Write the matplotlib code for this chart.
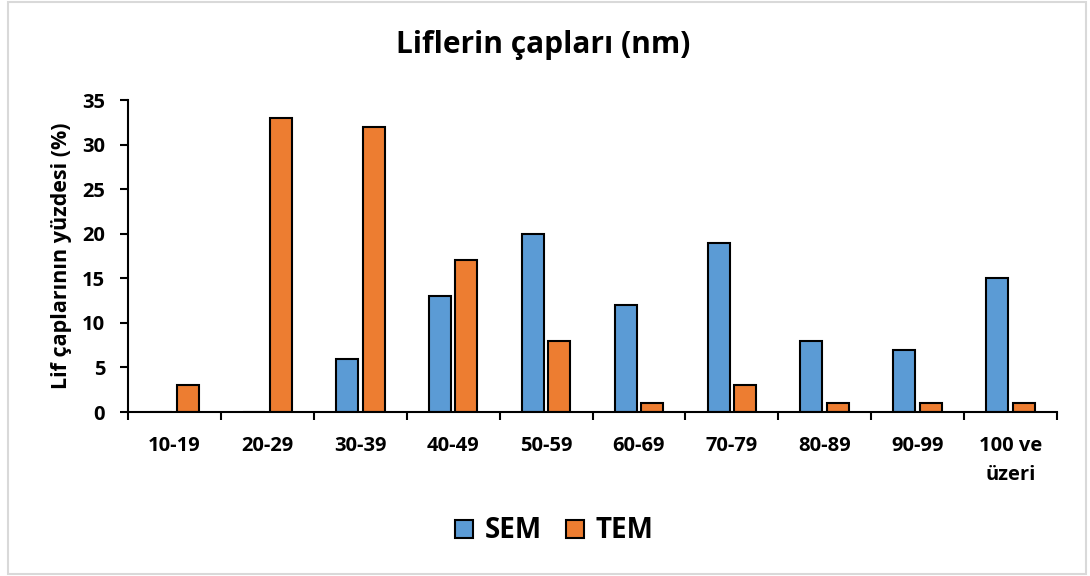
import matplotlib
matplotlib.use("Agg")
import matplotlib.pyplot as plt
import matplotlib.patches as mpatches
from matplotlib.lines import Line2D
import numpy as np

plt.rcParams["font.family"] = ["Open Sans", "DejaVu Sans"]
plt.rcParams["font.weight"] = "bold"

categories = ["10-19", "20-29", "30-39", "40-49", "50-59", "60-69",
              "70-79", "80-89", "90-99", "100 ve\nüzeri"]
sem = [0, 0, 6, 13, 20, 12, 19, 8, 7, 15]
tem = [3, 33, 32, 17, 8, 1, 3, 1, 1, 1]
SEM_C, TEM_C = "#5B9BD5", "#ED7D31"

fig = plt.figure(figsize=(10.9, 5.76), dpi=100)
ax = fig.add_axes([128 / 1090, 1 - 412 / 576, (1057 - 128) / 1090, (412 - 100) / 576])

# outer chart border
fig.patches.append(mpatches.Rectangle((8 / 1090, 2 / 576), 1078 / 1090, 572 / 576,
                                      transform=fig.transFigure, fill=False,
                                      edgecolor="#D9D9D9", linewidth=1.5))

x = np.arange(len(categories))
w = 0.237
ax.bar(x - 0.143, sem, w, color=SEM_C, edgecolor="black", linewidth=1.5)
ax.bar(x + 0.143, tem, w, color=TEM_C, edgecolor="black", linewidth=1.5)

ax.set_xlim(-0.5, len(categories) - 0.5)
ax.set_ylim(0, 35)
ax.set_yticks(range(0, 36, 5))
ax.set_xticks(x)
ax.set_xticklabels(categories, fontsize=14.5, fontweight="bold", linespacing=1.65)
ax.set_xticks(np.arange(-0.5, len(categories)), minor=True)
ax.tick_params(axis="x", which="major", length=0, pad=17)
ax.tick_params(axis="x", which="minor", length=6, width=1.5, direction="out")
ax.tick_params(axis="y", length=6, width=1.5, direction="out", labelsize=14.5, pad=10.5)
for lab in ax.get_yticklabels():
    lab.set_fontweight("bold")

for s in ["top", "right"]:
    ax.spines[s].set_visible(False)
for s in ["left", "bottom"]:
    ax.spines[s].set_linewidth(1.5)

ax.set_ylabel("Lif çaplarının yüzdesi (%)", fontsize=15.5, fontweight="bold", labelpad=7)
fig.text(0.4985, 1 - 45 / 576, "Liflerin çapları (nm)", ha="center", va="center",
         fontsize=21.5, fontweight="bold")

handles = [Line2D([], [], linestyle="none", marker="s", markersize=13,
                  markerfacecolor=c, markeredgecolor="black", markeredgewidth=1.5)
           for c in (SEM_C, TEM_C)]
leg = fig.legend(handles, ["SEM", "TEM"], loc="center",
                 bbox_to_anchor=(0.508, 1 - 531 / 576), ncol=2,
                 frameon=False, fontsize=20, handlelength=0.7,
                 handletextpad=0.4, columnspacing=0.85)
for t in leg.get_texts():
    t.set_fontweight("bold")

fig.savefig("out.png", dpi=100, facecolor="white")
